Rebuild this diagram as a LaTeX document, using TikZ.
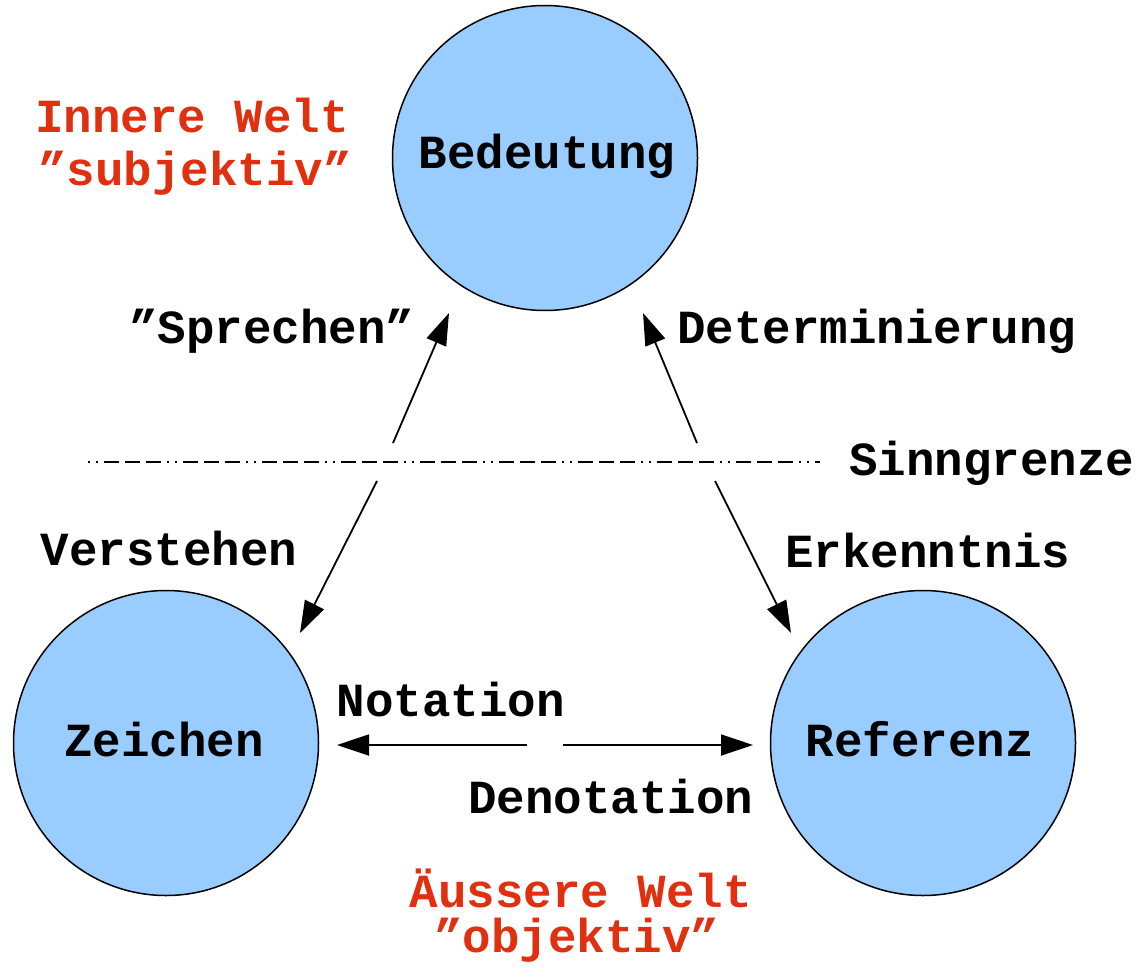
\documentclass[tikz,border=0pt]{standalone}
\usepackage{fontspec}
\setmainfont{Liberation Mono}
\usetikzlibrary{arrows.meta}
\definecolor{circfill}{RGB}{153,204,255}
\definecolor{worldred}{RGB}{224,48,16}
\begin{document}
\begin{tikzpicture}[x=1pt,y=-1pt,
  big/.style={font=\fontsize{47.5}{57}\selectfont\bfseries},
  lbl/.style={big,inner sep=0pt,anchor=base},
  redlbl/.style={lbl,text=worldred},
  circ/.style={circle,draw=black,line width=1.5pt,fill=circfill,minimum size=305pt,inner sep=0pt,big},
  arr/.style={line width=1.8pt,-{Triangle[length=32pt,width=21pt]}},
  grenze/.style={line width=1.9pt,dash pattern=on 2pt off 6pt on 2pt off 6pt on 15pt off 6pt on 15pt off 6pt on 15pt off 6pt}]
\useasboundingbox (0,0) rectangle (1142,971);
\node[circ] (bed) at (545,158) {};
\node[circ] (zei) at (166,743) {};
\node[circ] (ref) at (923,743) {};
\node[lbl] (tbed) at (547,168) {Bedeutung};
\node[lbl] (tzei) at (164,756) {Zeichen};
\node[lbl] (tref) at (920,756) {Referenz};
\node[redlbl] (iw) at (192,132) {Innere Welt};
\node[redlbl] (sub) at (195,185) {"subjektiv"};
\node[redlbl] (aw) at (581,907) {Äussere Welt};
\node[redlbl] (obj) at (577,952) {"objektiv"};
\node[lbl] (spr) at (272,343) {"Sprechen"};
\node[lbl] (det) at (877,343) {Determinierung};
\node[lbl] (sinn) at (992,475) {Sinngrenze};
\node[lbl] (ver) at (169,565) {Verstehen};
\node[lbl] (erk) at (928,567) {Erkenntnis};
\node[lbl] (not) at (451,716) {Notation};
\node[lbl] (den) at (611,813) {Denotation};
% free ends
\coordinate (g1) at (88,462);
\coordinate (g2) at (820,462);
\coordinate (s0) at (393,443);
\coordinate (s1) at (449,313);
\coordinate (v0) at (377,481);
\coordinate (v1) at (300,633);
\coordinate (d0) at (697,443);
\coordinate (d1) at (643,313);
\coordinate (e0) at (715,481);
\coordinate (e1) at (791,633);
\coordinate (n0) at (527,745);
\coordinate (n1) at (337,745);
\coordinate (dn0) at (563,745);
\coordinate (dn1) at (753,745);
\draw[grenze] (g1) -- (g2);
\draw[arr] (s0) -- (s1);
\draw[arr] (v0) -- (v1);
\draw[arr] (d0) -- (d1);
\draw[arr] (e0) -- (e1);
\draw[arr] (n0) -- (n1);
\draw[arr] (dn0) -- (dn1);
\end{tikzpicture}
\end{document}
